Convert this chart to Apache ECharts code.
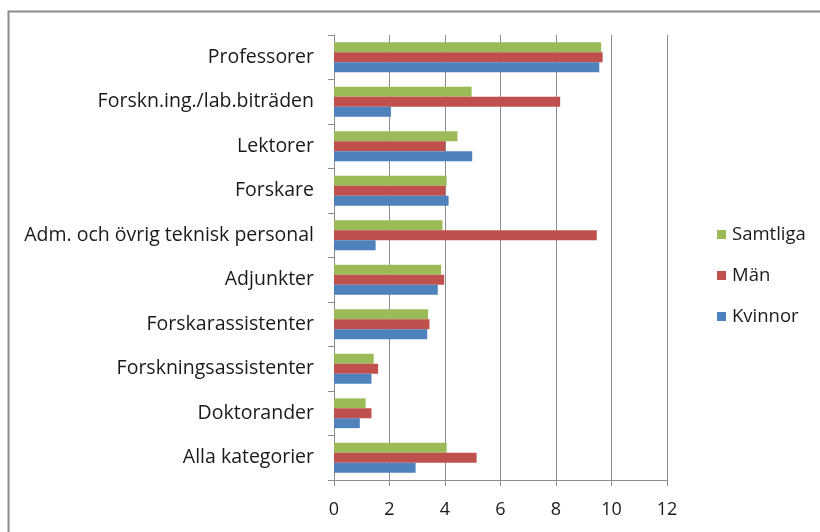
<!DOCTYPE html>
<html>
<head>
<meta charset="utf-8">
<script src="https://cdn.jsdelivr.net/npm/echarts@6/dist/echarts.min.js"></script>
<style>
  html, body { margin: 0; padding: 0; background: #fff; }
  #chart { width: 820px; height: 532px; }
</style>
</head>
<body>
<div id="chart"></div>
<script>
// kategorier uppifrån och ned
const categories = [
  'Professorer',
  'Forskn.ing./lab.biträden',
  'Lektorer',
  'Forskare',
  'Adm. och övrig teknisk personal',
  'Adjunkter',
  'Forskarassistenter',
  'Forskningsassistenter',
  'Doktorander',
  'Alla kategorier'
];
const samtliga = [9.63, 4.96, 4.45, 4.06, 3.91, 3.86, 3.39, 1.43, 1.14, 4.06];
const man      = [9.68, 8.15, 4.01, 4.01, 9.47, 3.97, 3.44, 1.59, 1.35, 5.14];
const kvinnor  = [9.56, 2.05, 4.98, 4.13, 1.50, 3.74, 3.36, 1.35, 0.93, 2.94];
const xTicks = [0, 2, 4, 6, 8, 10, 12];

const FONT = '"Open Sans", "Liberation Sans", sans-serif';
const GRID_COLOR = '#8c8c8c';

const chart = echarts.init(document.getElementById('chart'));

const barSeries = (name, data, color) => ({
  name: name,
  type: 'bar',
  data: data,
  barGap: '0%',
  barCategoryGap: '33%',
  itemStyle: { color: color },
  emphasis: { disabled: true }
});

const option = {
  animation: false,
  graphic: [{
    type: 'rect',
    shape: { x: 8.5, y: 11.5, width: 900, height: 600 },
    style: { fill: 'none', stroke: '#8a8a8a', lineWidth: 2 },
    silent: true
  }],
  grid: { left: 334, right: 153, top: 35, bottom: 52, containLabel: false },
  legend: {
    orient: 'vertical',
    left: 712,
    top: 220,
    itemWidth: 9,
    itemHeight: 9,
    itemGap: 22,
    icon: 'rect',
    data: ['Samtliga', 'Män', 'Kvinnor'],
    textStyle: { fontFamily: FONT, fontSize: 18.5, color: '#1a1a1a', padding: [0, 0, 0, 1] }
  },
  xAxis: {
    type: 'value',
    min: xTicks[0],
    max: xTicks[xTicks.length - 1],
    interval: 2,
    axisLine: { show: true, lineStyle: { color: GRID_COLOR, width: 1 } },
    axisTick: { show: true, length: 6, lineStyle: { color: GRID_COLOR } },
    splitLine: { show: true, lineStyle: { color: GRID_COLOR, width: 1 } },
    axisLabel: { fontFamily: FONT, fontSize: 18, color: '#1a1a1a', margin: 21 }
  },
  yAxis: {
    type: 'category',
    inverse: true,
    data: categories,
    axisLine: { show: true, lineStyle: { color: GRID_COLOR, width: 1 } },
    axisTick: { show: true, length: 6, lineStyle: { color: GRID_COLOR } },
    axisLabel: { fontFamily: FONT, fontSize: 19.5, color: '#1a1a1a', margin: 20 }
  },
  series: [
    barSeries('Samtliga', samtliga, '#9bbb59'),
    barSeries('Män', man, '#c0504d'),
    barSeries('Kvinnor', kvinnor, '#4f81bd')
  ]
};

chart.setOption(option);
</script>
</body>
</html>
